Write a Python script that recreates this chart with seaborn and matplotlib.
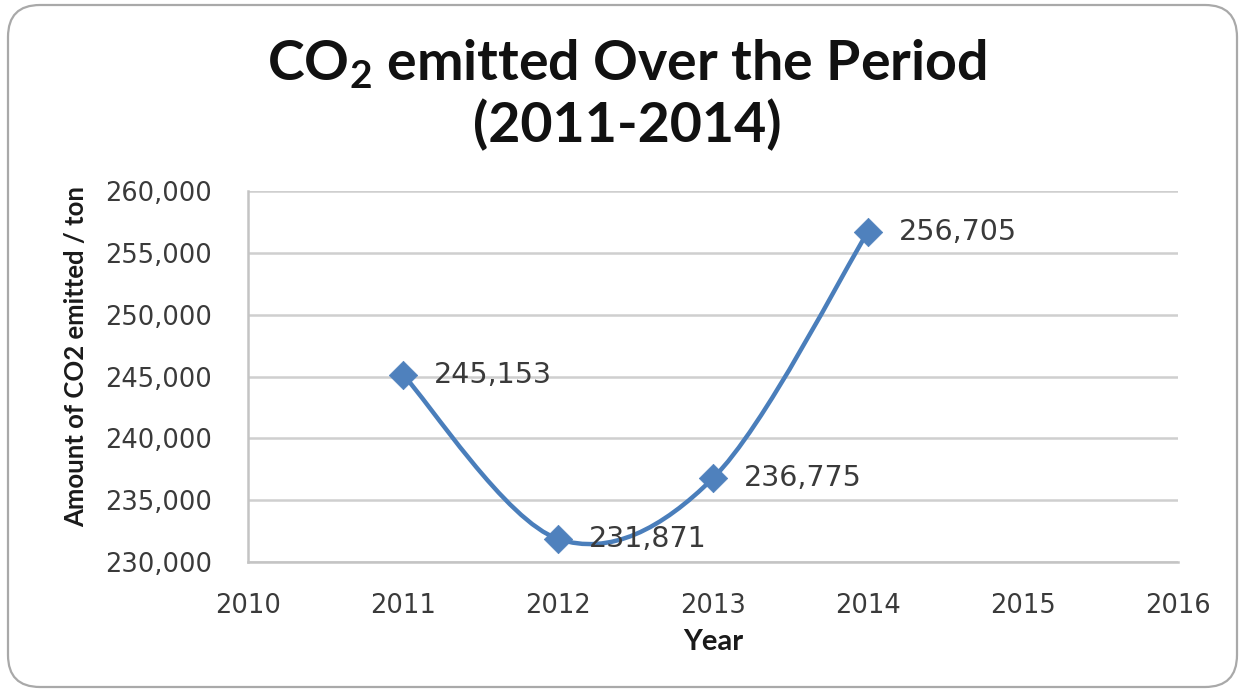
import numpy as np
import matplotlib
matplotlib.use("Agg")
import matplotlib.pyplot as plt
from matplotlib.path import Path
from matplotlib.patches import PathPatch, FancyBboxPatch
from matplotlib.ticker import FuncFormatter, MultipleLocator
import seaborn as sns

# CO2 emissions per year (tons)
years = [2011, 2012, 2013, 2014]
emissions = [245153, 231871, 236775, 256705]
x_ticks = [2010, 2011, 2012, 2013, 2014, 2015, 2016]

sns.set_theme(style="white")
plt.rcParams["font.family"] = ["DejaVu Sans"]
plt.rcParams["mathtext.fontset"] = "custom"
plt.rcParams["mathtext.rm"] = "Lato:bold"
plt.rcParams["mathtext.it"] = "Lato:bold"
plt.rcParams["mathtext.bf"] = "Lato:bold"
plt.rcParams["mathtext.default"] = "rm"

W, H = 1245, 691
fig = plt.figure(figsize=(W / 100, H / 100), dpi=100)
fig.patch.set_facecolor("white")

# rounded chart border
border = FancyBboxPatch((8, 4), 1229, 682, boxstyle="round,pad=0,rounding_size=32",
                        transform=None, facecolor="none", edgecolor="#A9A9A9",
                        linewidth=1.6, zorder=-1)
fig.patches.append(border)

ax = fig.add_axes([248 / W, 129 / H, 930 / W, 371 / H])
ax.set_facecolor("none")

blue = "#4A7EBB"

# smoothed line through the points (Catmull-Rom as cubic Bezier segments)
pts = np.column_stack([years, emissions]).astype(float)
verts = [pts[0]]
codes = [Path.MOVETO]
n = len(pts)
for i in range(n - 1):
    p0 = pts[i - 1] if i > 0 else pts[i]
    p1 = pts[i]
    p2 = pts[i + 1]
    p3 = pts[i + 2] if i + 2 < n else pts[i + 1]
    c1 = p1 + (p2 - p0) / 6.0
    c2 = p2 - (p3 - p1) / 6.0
    verts += [c1, c2, p2]
    codes += [Path.CURVE4] * 3
ax.add_patch(PathPatch(Path(verts, codes), facecolor="none", edgecolor=blue,
                       linewidth=3.2, zorder=3, capstyle="round"))

sns.scatterplot(x=years, y=emissions, marker="D", s=210, color="#4F81BD",
                edgecolor="#4F81BD", linewidth=0.5, ax=ax, zorder=4)

for xv, yv in zip(years, emissions):
    ax.annotate(f"{yv:,}", (xv, yv), xytext=(22, 0), textcoords="offset points",
                ha="left", va="center", fontsize=20.5, color="#3A3A3A",
                family="DejaVu Sans", zorder=5)

ax.set_xlim(2010, 2016)
ax.set_ylim(230000, 260000)
ax.set_xticks(x_ticks)
ax.set_xticklabels([str(t) for t in x_ticks])
ax.yaxis.set_major_locator(MultipleLocator(5000))
ax.yaxis.set_major_formatter(FuncFormatter(lambda v, p: f"{v:,.0f}"))
ax.tick_params(axis="both", length=0, labelsize=18.5, colors="#3A3A3A")
ax.tick_params(axis="y", pad=26)
ax.tick_params(axis="x", pad=22)

ax.yaxis.grid(True, color="#CFCFCF", linewidth=1.8)
ax.xaxis.grid(False)
for side in ["top", "right"]:
    ax.spines[side].set_visible(False)
for side in ["left", "bottom"]:
    ax.spines[side].set_color("#C4C4C4")
    ax.spines[side].set_linewidth(1.8)

ax.set_xlabel("Year", fontsize=21, fontweight="bold", family="Lato", color="#1A1A1A")
ax.set_ylabel("Amount of CO2 emitted / ton", fontsize=18.5, fontweight="bold",
              family="Lato", color="#1A1A1A")
ax.xaxis.set_label_coords(0.5, -0.18)
ax.yaxis.set_label_coords(-0.172, 0.555)

fig.text(627 / W, 1 - 94 / H, "CO$_2$ emitted Over the Period\n(2011-2014)",
         ha="center", va="center", fontsize=40, fontweight="bold", family="Lato",
         color="#111111", linespacing=1.18)

fig.savefig("out.png", dpi=100, facecolor="white")
